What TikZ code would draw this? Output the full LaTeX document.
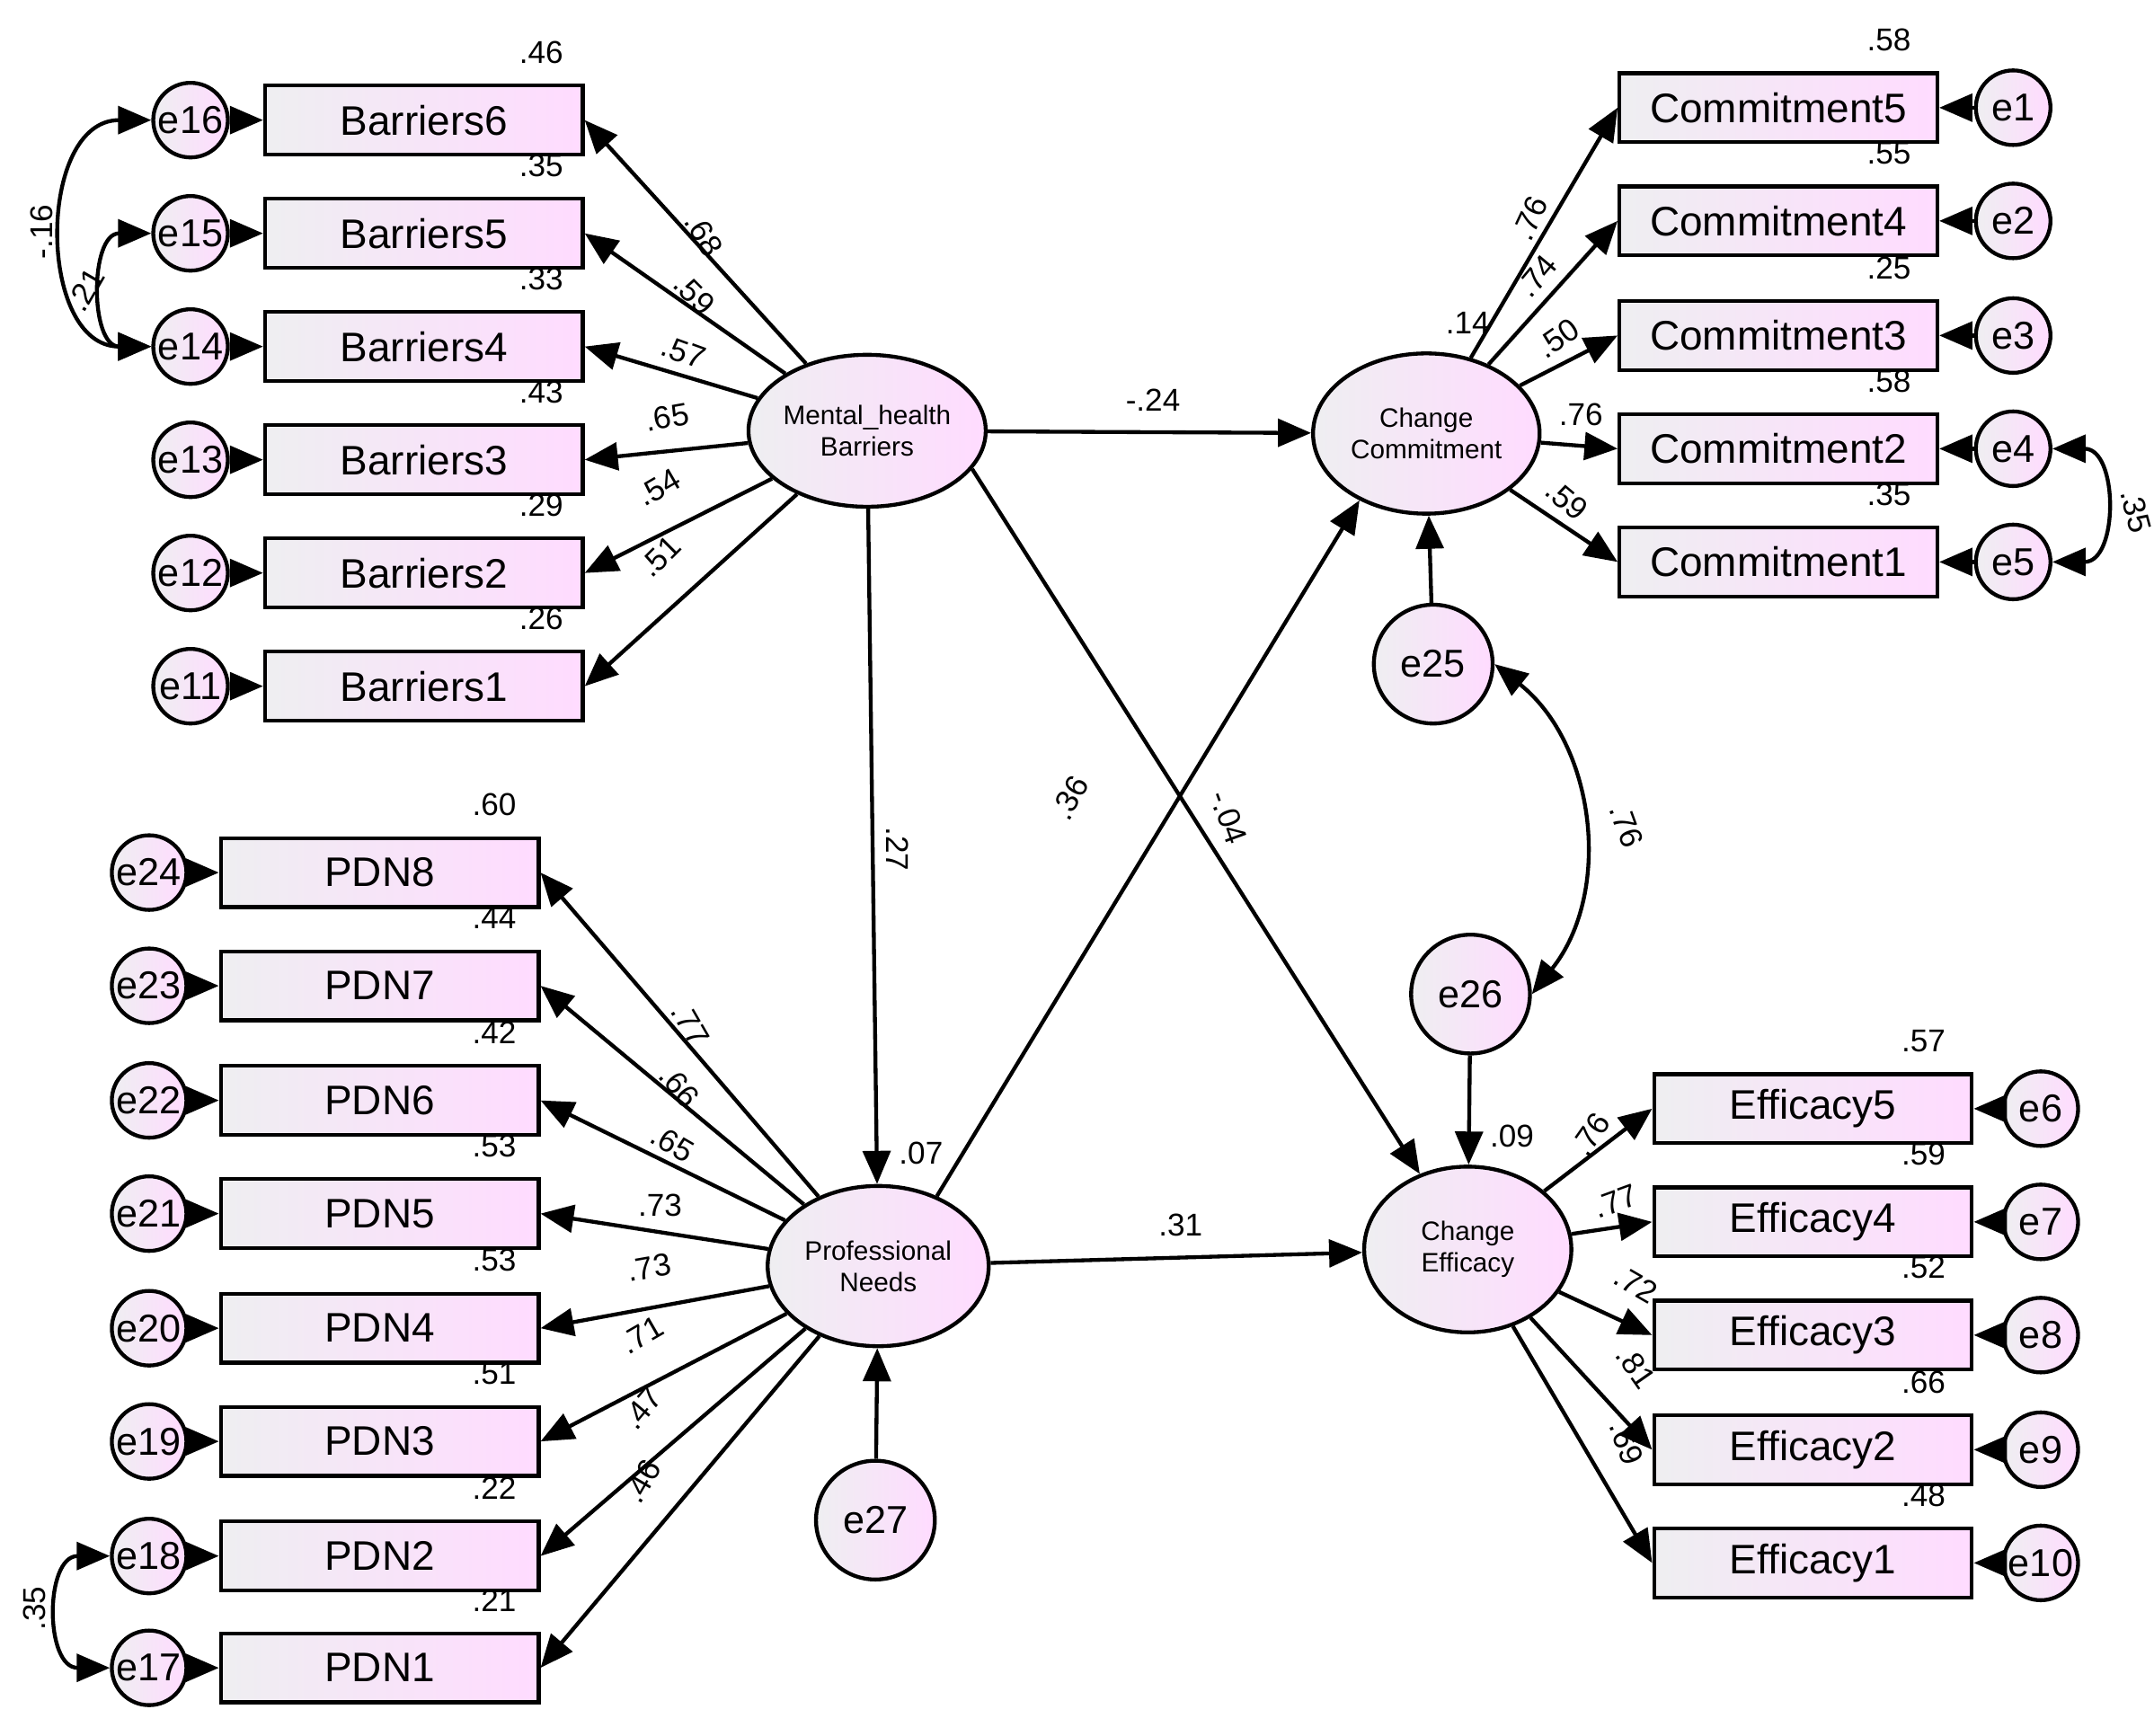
\documentclass[tikz,border=0pt]{standalone}
\usepackage{fontspec}
\setmainfont{Liberation Sans}
\usetikzlibrary{arrows.meta,shapes.geometric}
\begin{document}
\begin{tikzpicture}[x=0.01cm,y=-0.01cm,
  shade/.style={left color=blue!8!gray!12, right color=magenta!14},
  box/.style={draw,thick,shade,minimum width=2.3cm,minimum height=0.5cm,inner sep=0pt,font=\fontsize{8.5}{9}\selectfont},
  err/.style={draw,thick,circle,shade,minimum size=0.54cm,inner sep=0pt,font=\fontsize{8}{9}\selectfont},
  lat/.style={draw,thick,ellipse,shade,inner sep=0pt,font=\fontsize{5.5}{6.5}\selectfont,align=center},
  arr/.style={thick,-{Triangle[length=2.4mm,width=2mm]}},
  cov/.style={thick,{Triangle[length=2.4mm,width=2mm]}-{Triangle[length=2.4mm,width=2mm]}},
  lb/.style={font=\fontsize{6.5}{7}\selectfont,inner sep=0pt}]
\useasboundingbox (0,0) rectangle (1560,1257);
% latent
\node[lat,minimum width=1.64cm,minimum height=1.1cm] (MH) at (628,312) {Mental\_health\\Barriers};
\node[lat,minimum width=1.6cm,minimum height=1.16cm] (PN) at (636,917) {Professional\\Needs};
\node[lat,minimum width=1.64cm,minimum height=1.16cm] (CC) at (1033,314) {Change\\Commitment};
\node[lat,minimum width=1.5cm,minimum height=1.2cm] (CE) at (1063,905) {Change\\Efficacy};
\node[err,minimum size=0.86cm] (e25) at (1038,481) {e25};
\node[err,minimum size=0.86cm] (e26) at (1065,720) {e26};
\node[err,minimum size=0.86cm] (e27) at (634,1101) {e27};
% barriers
\foreach \i/\y/\e/\r in {6/87/16/.46,5/169/15/.35,4/251/14/.33,3/333/13/.43,2/415/12/.29,1/497/11/.26}{
  \node[box] (B\i) at (307,\y) {Barriers\i};
  \node[err] (eb\i) at (138,\y) {e\e};
  \draw[arr] (eb\i) -- (B\i.west);
  \draw[arr] (MH) -- (B\i.east);
  \node[lb] at (392,\y-49) {\r};
}
\foreach \i/\y/\e/\r in {8/632/24/.60,7/714/23/.44,6/797/22/.42,5/879/21/.53,4/962/20/.53,3/1044/19/.51,2/1127/18/.22,1/1208/17/.21}{
  \node[box] (P\i) at (275,\y) {PDN\i};
  \node[err] (ep\i) at (108,\y) {e\e};
  \draw[arr] (ep\i) -- (P\i.west);
  \draw[arr] (PN) -- (P\i.east);
  \node[lb] at (358,\y-49) {\r};
}
\foreach \i/\y/\e/\r in {5/78/1/.58,4/160/2/.55,3/243/3/.25,2/325/4/.58,1/407/5/.35}{
  \node[box] (C\i) at (1288,\y) {Commitment\i};
  \node[err] (ec\i) at (1458,\y) {e\e};
  \draw[arr] (ec\i) -- (C\i.east);
  \draw[arr] (CC) -- (C\i.west);
  \node[lb] at (1368,\y-49) {\r};
}
\foreach \i/\y/\e/\r in {5/803/6/.57,4/885/7/.59,3/967/8/.52,2/1050/9/.66,1/1132/10/.48}{
  \node[box] (F\i) at (1313,\y) {Efficacy\i};
  \node[err] (ef\i) at (1478,\y) {e\e};
  \draw[arr] (ef\i) -- (F\i.east);
  \draw[arr] (CE) -- (F\i.west);
  \node[lb] at (1393,\y-49) {\r};
}
% structural
\draw[arr] (MH) -- (CC);
\draw[arr] (MH.-20) -- (CE);
\draw[arr] (MH) -- (PN);
\draw[arr] (PN.50) -- (CC.225);
\draw[arr] (PN) -- (CE);
\draw[arr] (e25) -- (CC);
\draw[arr] (e26) -- (CE);
\draw[arr] (e27) -- (PN);
% covariances
\draw[cov] (eb6.west) to[out=180,in=180,looseness=1.3] (eb4.west);
\draw[cov] (eb5.west) to[out=180,in=180,looseness=1.4] (eb4.west);
\draw[cov] (ep2.west) to[out=180,in=180,looseness=1.5] (ep1.west);
\draw[cov] (ec2.east) to[out=0,in=0,looseness=1.5] (ec1.east);
\draw[cov] (e25.east) to[bend left=45] (e26.east);
% labels
\node[lb,rotate=-60] at (510,170) {.68};
\node[lb,rotate=-45] at (503,213) {.59};
\node[lb,rotate=-20] at (495,255) {.57};
\node[lb,rotate=10] at (483,302) {.65};
\node[lb,rotate=30] at (477,353) {.54};
\node[lb,rotate=45] at (478,403) {.51};
\node[lb,rotate=-60] at (500,742) {.77};
\node[lb,rotate=-50] at (492,787) {.66};
\node[lb,rotate=-30] at (487,828) {.65};
\node[lb] at (478,873) {.73};
\node[lb,rotate=10] at (470,918) {.73};
\node[lb,rotate=30] at (465,967) {.71};
\node[lb,rotate=50] at (465,1020) {.47};
\node[lb,rotate=60] at (465,1073) {.46};
\node[lb,rotate=65] at (1108,158) {.76};
\node[lb,rotate=50] at (1113,200) {.74};
\node[lb,rotate=35] at (1128,245) {.50};
\node[lb] at (1145,300) {.76};
\node[lb,rotate=-40] at (1135,362) {.59};
\node[lb,rotate=55] at (1152,822) {.76};
\node[lb,rotate=20] at (1170,870) {.77};
\node[lb,rotate=-30] at (1185,930) {.72};
\node[lb,rotate=-55] at (1185,990) {.81};
\node[lb,rotate=-70] at (1178,1045) {.69};
\node[lb] at (1063,234) {.14};
\node[lb] at (667,835) {.07};
\node[lb] at (1095,823) {.09};
\node[lb] at (835,290) {-.24};
\node[lb,rotate=-70] at (890,592) {-.04};
\node[lb,rotate=60] at (775,578) {.36};
\node[lb,rotate=-90] at (650,615) {.27};
\node[lb] at (855,887) {.31};
\node[lb,rotate=-70] at (1178,598) {.76};
\node[lb,rotate=90] at (30,168) {-.16};
\node[lb,rotate=60] at (62,210) {.21};
\node[lb,rotate=-75] at (1547,370) {.35};
\node[lb,rotate=90] at (25,1165) {.35};
\end{tikzpicture}
\end{document}
